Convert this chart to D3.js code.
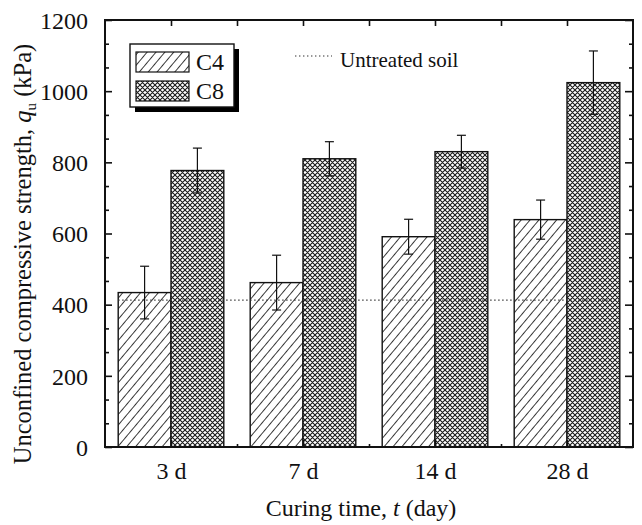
<!DOCTYPE html>
<html>
<head>
<meta charset="utf-8">
<script src="https://cdn.jsdelivr.net/npm/d3@7/dist/d3.min.js"></script>
<style>
  html, body { margin: 0; padding: 0; background: #fff; }
  svg { display: block; }
  text { font-family: "Liberation Serif", "Times New Roman", serif; fill: #111; }
</style>
</head>
<body>
<svg id="chart" width="642" height="525"></svg>
<script>
// Curing-time groups and strength data (kPa)
const categories = ["3 d", "7 d", "14 d", "28 d"];
const seriesNames = ["C4", "C8"];
const c4Values = [434, 462, 591, 639];
const c4Errors = [74, 77, 49, 55];
const c8Values = [777, 810, 830, 1024];
const c8Errors = [63, 48, 46, 89];
const untreatedSoil = 413;
const yTickValues = [0, 200, 400, 600, 800, 1000, 1200];

const svg = d3.select("#chart");
const frame = { left: 105, right: 633, top: 20, bottom: 447 };

// Groups sit at 1, 3, 5, 7 on a 0..8 axis; bars are 0.8 wide each side of the centre
const x = d3.scaleLinear().domain([0, 8]).range([frame.left, frame.right]);
const y = d3.scaleLinear().domain([0, 1200]).range([frame.bottom, frame.top]);
const centres = categories.map((c, i) => 1 + 2 * i);
const barW = 0.8;

// Fill patterns
const defs = svg.append("defs");
const diag = defs.append("pattern")
  .attr("id", "hatchC4").attr("patternUnits", "userSpaceOnUse")
  .attr("width", 6.8).attr("height", 10)
  .attr("patternTransform", "rotate(40)");
diag.append("rect").attr("width", 6.8).attr("height", 10).attr("fill", "#fff");
diag.append("line").attr("x1", 3.4).attr("x2", 3.4).attr("y1", -1).attr("y2", 11)
  .attr("stroke", "#222").attr("stroke-width", 0.9);

const cross = defs.append("pattern")
  .attr("id", "hatchC8").attr("patternUnits", "userSpaceOnUse")
  .attr("width", 5).attr("height", 5);
cross.append("rect").attr("width", 5).attr("height", 5).attr("fill", "#fff");
cross.append("path").attr("d", "M0,0L5,5M5,0L0,5M-1,1L1,-1M4,6L6,4M-1,4L1,6M4,-1L6,1")
  .attr("stroke", "#1a1a1a").attr("stroke-width", 1.1).attr("fill", "none");

const fills = { C4: "url(#hatchC4)", C8: "url(#hatchC8)" };

// Bars
const bars = [];
categories.forEach((c, i) => {
  bars.push({ s: "C4", x0: centres[i] - barW, v: c4Values[i], e: c4Errors[i] });
  bars.push({ s: "C8", x0: centres[i], v: c8Values[i], e: c8Errors[i] });
});

svg.append("g").selectAll("rect").data(bars).join("rect")
  .attr("x", d => x(d.x0))
  .attr("y", d => y(d.v))
  .attr("width", d => x(d.x0 + barW) - x(d.x0))
  .attr("height", d => y(0) - y(d.v))
  .attr("fill", d => fills[d.s])
  .attr("stroke", "#111").attr("stroke-width", 1.4);

// Untreated soil reference line
svg.append("line")
  .attr("x1", x(0.2)).attr("x2", x(7.8))
  .attr("y1", y(untreatedSoil)).attr("y2", y(untreatedSoil))
  .attr("stroke", "#333").attr("stroke-width", 1.2)
  .attr("stroke-dasharray", "1.4,2.6");

// Error bars
const eg = svg.append("g").attr("stroke", "#111").attr("stroke-width", 1.2);
bars.forEach(d => {
  const cx = x(d.x0 + barW / 2);
  eg.append("line").attr("x1", cx).attr("x2", cx).attr("y1", y(d.v + d.e)).attr("y2", y(d.v - d.e));
  [d.v + d.e, d.v - d.e].forEach(v => {
    eg.append("line").attr("x1", cx - 4.5).attr("x2", cx + 4.5).attr("y1", y(v)).attr("y2", y(v));
  });
});

// Axes: ticks point into the plot
const minorY = d3.range(0, 1200, 200 / 3).filter(v => Math.abs(v / 200 - Math.round(v / 200)) > 1e-6);

const yLeft = svg.append("g").attr("transform", `translate(${frame.left},0)`)
  .call(d3.axisLeft(y).tickValues(yTickValues).tickSize(-7).tickPadding(17).tickFormat(d3.format("d")));
svg.append("g").attr("transform", `translate(${frame.left},0)`)
  .call(d3.axisLeft(y).tickValues(minorY).tickSize(-4).tickFormat(""));
svg.append("g").attr("transform", `translate(${frame.right},0)`)
  .call(d3.axisRight(y).tickValues(yTickValues).tickSize(-8).tickFormat(""));
svg.append("g").attr("transform", `translate(${frame.right},0)`)
  .call(d3.axisRight(y).tickValues(minorY).tickSize(-4).tickFormat(""));

const xBottom = svg.append("g").attr("transform", `translate(0,${frame.bottom})`)
  .call(d3.axisBottom(x).tickValues(centres).tickSize(-7).tickPadding(15)
    .tickFormat((d, i) => categories[i]));
svg.append("g").attr("transform", `translate(0,${frame.bottom})`)
  .call(d3.axisBottom(x).tickValues([2, 4, 6]).tickSize(-3).tickFormat(""));
svg.append("g").attr("transform", `translate(0,${frame.top})`)
  .call(d3.axisTop(x).tickValues(d3.range(1, 8)).tickSize(-6).tickFormat(""));

svg.selectAll(".domain").remove();
svg.selectAll(".tick line").attr("stroke", "#111").attr("stroke-width", 1.6);
svg.selectAll(".tick text").style("font-size", "24px").attr("fill", "#111")
  .style("font-family", '"Liberation Serif", "Times New Roman", serif');
yLeft.selectAll(".tick text").attr("dy", "0.34em");

// Frame
svg.append("rect")
  .attr("x", frame.left).attr("y", frame.top)
  .attr("width", frame.right - frame.left).attr("height", frame.bottom - frame.top)
  .attr("fill", "none").attr("stroke", "#111").attr("stroke-width", 2);

// Axis titles
svg.append("text")
  .attr("x", (frame.left + frame.right) / 2 - 8).attr("y", 516)
  .attr("text-anchor", "middle").style("font-size", "24px")
  .html('Curing time, <tspan font-style="italic">t</tspan> (day)');

svg.append("text")
  .attr("transform", "translate(31,254) rotate(-90)")
  .attr("text-anchor", "middle").style("font-size", "24.5px")
  .html('Unconfined compressive strength, <tspan font-style="italic">q</tspan><tspan font-size="15px" dy="5">u</tspan><tspan dy="-5"> (kPa)</tspan>');

// Series legend with drop shadow
const lg = svg.append("g");
lg.append("rect").attr("x", 135).attr("y", 49).attr("width", 104).attr("height", 63).attr("fill", "#000");
lg.append("rect").attr("x", 130).attr("y", 44).attr("width", 104).attr("height", 63)
  .attr("fill", "#fff").attr("stroke", "#111").attr("stroke-width", 1.4);
seriesNames.forEach((s, i) => {
  lg.append("rect").attr("x", 136).attr("y", 52 + i * 29).attr("width", 53).attr("height", 20)
    .attr("fill", fills[s]).attr("stroke", "#111").attr("stroke-width", 1.2);
  lg.append("text").attr("x", 196).attr("y", 70 + i * 29).style("font-size", "24px").text(s);
});

// Reference line legend
svg.append("line").attr("x1", 295).attr("x2", 332).attr("y1", 56).attr("y2", 56)
  .attr("stroke", "#333").attr("stroke-width", 1.2).attr("stroke-dasharray", "1.4,2.6");
svg.append("text").attr("x", 340).attr("y", 67).style("font-size", "21px").text("Untreated soil");
</script>
</body>
</html>
